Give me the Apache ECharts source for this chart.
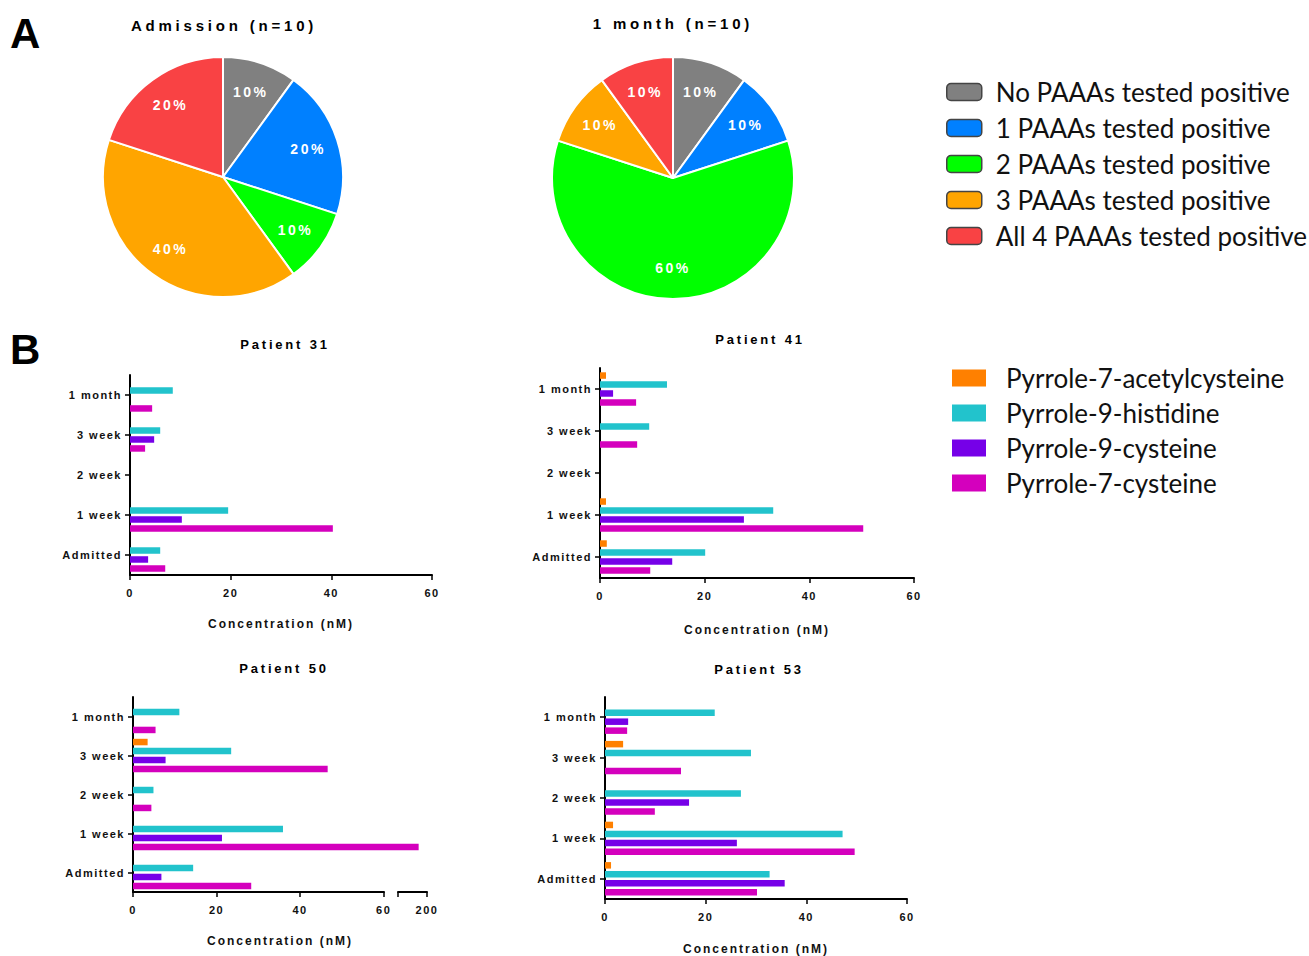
<!DOCTYPE html>
<html><head><meta charset="utf-8">
<script src="https://cdn.jsdelivr.net/npm/echarts@6.0.0/dist/echarts.min.js"></script>
<style>html,body{margin:0;padding:0;background:#fff}#c{width:1309px;height:956px}</style>
</head><body><div id="c"></div>
<script>
// ---------- data ----------
const pieNames = ['No PAAAs tested positive','1 PAAAs tested positive','2 PAAAs tested positive','3 PAAAs tested positive','All 4 PAAAs tested positive'];
const admissionPct = [10, 20, 10, 40, 20];
const monthPct = [10, 10, 60, 10, 10];
const timepoints = ['Admitted', '1 week', '2 week', '3 week', '1 month'];
const compounds = ['Pyrrole-7-acetylcysteine', 'Pyrrole-9-histidine', 'Pyrrole-9-cysteine', 'Pyrrole-7-cysteine'];
const xTicks = [0, 20, 40, 60];
const xTicks50 = [0, 20, 40, 60, 200];
const xTickMarks50 = [0, 20, 40, 60, 193, 200];
const break50 = {start: 60, end: 193};
// Patient 31
const p31_acetyl = [0, 0, 0, 0, 0];
const p31_his9 = [6.0, 19.5, 0, 6.0, 8.5];
const p31_cys9 = [3.6, 10.3, 0, 4.8, 0];
const p31_cys7 = [7.0, 40.3, 0, 3.0, 4.4];
// Patient 41
const p41_acetyl = [1.3, 1.15, 0, 0, 1.15];
const p41_his9 = [20.1, 33.1, 0, 9.4, 12.8];
const p41_cys9 = [13.8, 27.5, 0, 0, 2.5];
const p41_cys7 = [9.6, 50.3, 0, 7.1, 6.9];
// Patient 50
const p50_acetyl = [0, 0, 0, 3.5, 0];
const p50_his9 = [14.4, 35.9, 4.9, 23.5, 11.1];
const p50_cys9 = [6.8, 21.3, 0, 7.8, 0];
const p50_cys7 = [28.3, 198, 4.4, 46.6, 5.4];
// Patient 53
const p53_acetyl = [1.2, 1.6, 0, 3.6, 0];
const p53_his9 = [32.7, 47.2, 27.0, 29.0, 21.8];
const p53_cys9 = [35.7, 26.2, 16.7, 0, 4.6];
const p53_cys7 = [30.2, 49.6, 9.9, 15.1, 4.4];

// ---------- styles / layout ----------
const pieColors = ['#808080', '#0080FF', '#00FF00', '#FFA500', '#F94244'];
const barColors = ['#FF8000', '#22C3CC', '#7600E8', '#D400BD'];
const F = 'Liberation Sans';
const patients = [
  {title: 'Patient 31', data: [p31_acetyl, p31_his9, p31_cys9, p31_cys7], ticks: xTicks},
  {title: 'Patient 41', data: [p41_acetyl, p41_his9, p41_cys9, p41_cys7], ticks: xTicks},
  {title: 'Patient 50', data: [p50_acetyl, p50_his9, p50_cys9, p50_cys7], ticks: xTicks50},
  {title: 'Patient 53', data: [p53_acetyl, p53_his9, p53_cys9, p53_cys7], ticks: xTicks}
];
const gridBoxes = [
  {left: 130, top: 375, width: 302, height: 200},
  {left: 600, top: 368, width: 314, height: 210},
  {left: 133, top: 697, width: 294, height: 195},
  {left: 605, top: 697, width: 302, height: 202}
];
const nameGaps = [43, 46, 43, 44];

const chart = echarts.init(document.getElementById('c'), null, {renderer: 'svg', width: 1309, height: 956});

function pieData(vals) {
  return pieNames.map((n, i) => ({name: n, value: vals[i], itemStyle: {color: pieColors[i]}}));
}
function pieSeries(center, r, vals) {
  return [
    {type: 'pie', center: center, radius: r, startAngle: 90, clockwise: true, animation: false,
     label: {show: false}, labelLine: {show: false}, emphasis: {disabled: true},
     itemStyle: {borderColor: '#fff', borderWidth: 2}, data: pieData(vals)},
    {type: 'pie', center: center, radius: [Math.round(r * 0.44), r], startAngle: 90, clockwise: true, animation: false,
     silent: true, z: 5, emphasis: {disabled: true}, labelLine: {show: false},
     itemStyle: {color: 'rgba(0,0,0,0)', borderWidth: 0},
     label: {show: true, position: 'inside', formatter: '{c}%', color: '#fff', fontFamily: F, fontWeight: 'bold', fontSize: 14},
     data: pieNames.map((n, i) => ({name: n, value: vals[i]}))}
  ];
}

const series = [];
series.push(...pieSeries([223, 177], 120, admissionPct));
series.push(...pieSeries([673, 178], 121, monthPct));

const xAxes = [], yAxes = [];
patients.forEach((p, g) => {
  const is50 = g === 2;
  const ax = {
    type: 'value', gridIndex: g, min: 0, max: is50 ? 200 : 60, interval: 20,
    axisLine: {show: true, lineStyle: {color: '#000', width: 2}},
    axisTick: {show: true, length: 5, lineStyle: {color: '#000', width: 1.5}},
    splitLine: {show: false},
    axisLabel: {color: '#111', fontFamily: F, fontWeight: 'bold', fontSize: 11, margin: 12,
      formatter: v => (p.ticks.indexOf(v) >= 0 ? String(v) : '')},
    name: 'Concentration (nM)', nameLocation: 'middle', nameGap: nameGaps[g],
    nameTextStyle: {color: '#111', fontFamily: F, fontWeight: 'bold', fontSize: 12}
  };
  if (is50) {
    ax.breaks = [{start: break50.start, end: break50.end, gap: '4.8%'}];
    ax.breakArea = {show: true, itemStyle: {color: 'rgba(0,0,0,0)', borderColor: 'rgba(0,0,0,0)', borderWidth: 0}, zigzagAmplitude: 0};
    ax.axisTick.customValues = xTickMarks50;
    ax.axisLabel.customValues = xTicks50;
    ax.axisLabel.showMaxLabel = true;
  }
  xAxes.push(ax);
  yAxes.push({
    type: 'category', gridIndex: g, data: timepoints,
    axisLine: {show: true, lineStyle: {color: '#000', width: 2}},
    axisTick: {show: true, length: 5, alignWithLabel: true, lineStyle: {color: '#000', width: 1.5}},
    axisLabel: {color: '#111', fontFamily: F, fontWeight: 'bold', fontSize: 11, margin: 8},
    splitLine: {show: false}
  });
  p.data.forEach((arr, k) => {
    series.push({
      type: 'bar', name: compounds[k], xAxisIndex: g, yAxisIndex: g, data: arr,
      barWidth: 6.5, barGap: '38%', animation: false, emphasis: {disabled: true},
      itemStyle: {color: barColors[k]}
    });
  });
});

const titleTexts = [
  {t: 'A', x: 10, y: 33, size: 42, align: 'left'},
  {t: 'B', x: 10, y: 349, size: 42, align: 'left'},
  {t: 'Admission (n=10)', x: 224, y: 25, size: 15, align: 'center'},
  {t: '1 month (n=10)', x: 673, y: 23, size: 15, align: 'center'},
  {t: patients[0].title, x: 285, y: 344, size: 13, align: 'center'},
  {t: patients[1].title, x: 760, y: 339, size: 13, align: 'center'},
  {t: patients[2].title, x: 284, y: 668, size: 13, align: 'center'},
  {t: patients[3].title, x: 759, y: 669, size: 13, align: 'center'}
];

chart.setOption({
  animation: false,
  backgroundColor: '#fff',
  grid: gridBoxes.map(b => Object.assign({containLabel: false}, b)),
  xAxis: xAxes,
  yAxis: yAxes,
  legend: [
    {orient: 'vertical', left: 946, top: 79, padding: 0, itemWidth: 35, itemHeight: 17, itemGap: 10,
     icon: 'roundRect', data: pieNames, selectedMode: false,
     itemStyle: {borderColor: '#444', borderWidth: 1.5},
     textStyle: {fontFamily: 'Lato', fontSize: 26, color: '#111', padding: [0, 0, 0, 9]}},
    {orient: 'vertical', left: 952, top: 365, padding: 0, itemWidth: 34, itemHeight: 17, itemGap: 9,
     icon: 'rect', data: compounds, selectedMode: false,
     itemStyle: {borderWidth: 0},
     textStyle: {fontFamily: 'Lato', fontSize: 26, color: '#111', padding: [0, 0, 0, 15]}}
  ],
  graphic: titleTexts.map(o => ({
    type: 'text', x: o.x, y: o.y, silent: true,
    style: {text: o.t, fill: '#000', font: 'bold ' + o.size + 'px ' + F, textAlign: o.align, textVerticalAlign: 'middle'}
  })),
  series: series
});

const spacing = {15: 3.8, 14: 2.5, 13: 2.8, 12: 2.0, 11: 1.5};
function applySpacing() {
  document.querySelectorAll('#c svg text').forEach(el => {
    const cs = getComputedStyle(el);
    if (cs.fontFamily.indexOf('Liberation') < 0) return;
    const s = spacing[Math.round(parseFloat(cs.fontSize))];
    if (s) el.style.letterSpacing = s + 'px';
  });
}
applySpacing();
chart.on('finished', applySpacing);
</script></body></html>
